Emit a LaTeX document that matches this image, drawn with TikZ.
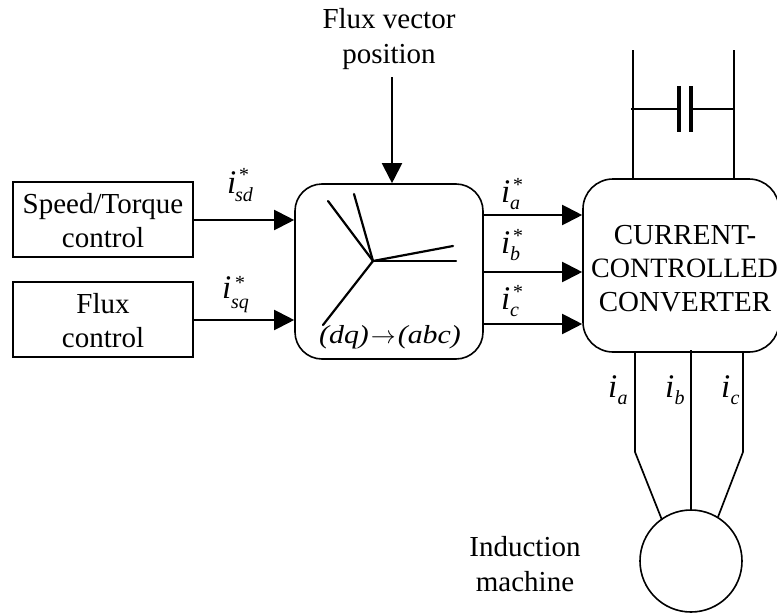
\documentclass[tikz,border=0pt]{standalone}
\usepackage{fontspec}
\setmainfont{Liberation Serif}
\newfontfamily\dqfont[FakeStretch=1.15]{Liberation Serif}
\usetikzlibrary{arrows.meta,calc}
\tikzset{
  wire/.style={line width=1.7pt,black},
  flow/.style={line width=2pt,black,-{Triangle[length=20pt,width=20pt]}},
  block/.style={draw,line width=1.6pt,inner sep=0pt},
  round block/.style={block,rounded corners=27pt},
  lbl/.style={inner sep=0pt,align=center,anchor=base,font=\fontsize{29}{34}\selectfont},
  sym/.style={inner sep=0pt,anchor=base west,font=\fontsize{33}{33}\selectfont\itshape},
  sub/.style={inner sep=0pt,anchor=base west,font=\fontsize{20}{20}\selectfont\itshape},
  plate/.style={line width=4pt,black},
  spoke/.style={line width=2.2pt,black,line cap=round},
}
\begin{document}
\begin{tikzpicture}[x=1pt,y=-1pt]
\useasboundingbox (0,0) rectangle (777,613);
\clip (0,0) rectangle (777,613);
% blocks
\node[block,minimum width=180pt,minimum height=75pt] (speed) at (103,219.5) {};
\node[block,minimum width=180pt,minimum height=75pt] (flux) at (103,319.5) {};
\node[round block,minimum width=188pt,minimum height=175pt] (map) at (389,271.5) {};
\node[round block,rounded corners=30pt,minimum width=196pt,minimum height=173pt] (conv) at (681,265.5) {};
\node[draw,circle,line width=1.6pt,minimum size=102pt,inner sep=0pt] (motor) at (691,561) {};
% labels
\node[lbl] (t1) at (103,213) {Speed/Torque};
\node[lbl] (t2) at (103,247) {control};
\node[lbl] (t3) at (103,313) {Flux};
\node[lbl] (t4) at (103,347) {control};
\node[lbl] (t5) at (685,244) {CURRENT-};
\node[lbl,font=\fontsize{28}{34}\selectfont] (t6) at (684.5,277) {CONTROLLED};
\node[lbl] (t7) at (685,311) {CONVERTER};
\node[lbl] (t8) at (389,28) {Flux vector};
\node[lbl] (t9) at (389,63) {position};
\node[lbl] (t10) at (525,556) {Induction};
\node[lbl] (t11) at (525,591) {machine};
\node[inner sep=0pt,anchor=base,font=\fontsize{26}{26}\selectfont\dqfont\itshape] (dq) at (390,343) {(dq)\kern2pt$\rightarrow$\kern2pt(abc)};
% input arrows
\coordinate (fluxtop) at (392,77);
\draw[flow] (fluxtop) -- (fluxtop |- map.north);
\coordinate (s1) at (speed.east |- 0,220);
\coordinate (m1) at (map.west |- 0,220);
\coordinate (s2) at (flux.east |- 0,320);
\coordinate (m2) at (map.west |- 0,320);
\draw[flow] (s1) -- (m1);
\draw[flow] (s2) -- (m2);
% output arrows
\foreach \n/\y in {a/215,b/272,c/324}{
  \coordinate (o\n) at (map.east |- 0,\y);
  \coordinate (c\n) at (conv.west |- 0,\y);
  \draw[flow] (o\n) -- (c\n);
}
% current labels
\node[sym] (isd) at (227,193) {i};
\node[sub] (isdb) at (235,201) {sd};
\node[sub] (isds) at (238,181) {*};
\node[sym] (isq) at (222,298) {i};
\node[sub] (isqb) at (231,308) {sq};
\node[sub] (isqs) at (234,289) {*};
\foreach \n/\y in {a/202,b/253,c/309}{
  \node[sym] (ref\n) at (501,\y) {i};
  \node[sub] (ref\n b) at (510,\y+7.5) {\n};
  \node[sub] (ref\n s) at (512,\y-11) {*};
}
\foreach \n/\x in {a/608,b/665,c/721}{
  \node[sym] (m\n) at (\x,397) {i};
  \node[sub] (m\n b) at (\x+9.5,404) {\n};
}
% star
\coordinate (hub) at (373,261);
\coordinate (d1) at (328,201);
\coordinate (d2) at (354,194);
\coordinate (d3) at (453,246);
\coordinate (d4) at (456,261);
\coordinate (d5) at (323,325);
\foreach \e in {d1,d2,d3,d4,d5} \draw[spoke] (hub) -- (\e);
% DC link
\coordinate (dcl) at (633,50);
\coordinate (dcr) at (734,50);
\draw[wire] (dcl) -- (dcl |- conv.north);
\draw[wire] (dcr) -- (dcr |- conv.north);
\coordinate (pl) at (679,109);
\coordinate (pr) at (691,109);
\draw[wire] (631,109) -- (pl);
\draw[wire] (pr) -- (734,109);
\draw[plate] (679,86) -- (679,132);
\draw[plate] (691,86) -- (691,132);
% motor feeders
\coordinate (ka) at (635,452);
\coordinate (kc) at (743,452);
\draw[wire] (ka |- conv.south) -- (ka) -- (662,520);
\draw[wire] (691,350) -- (motor.north);
\draw[wire] (kc |- conv.south) -- (kc) -- (718,517);
\end{tikzpicture}
\end{document}
